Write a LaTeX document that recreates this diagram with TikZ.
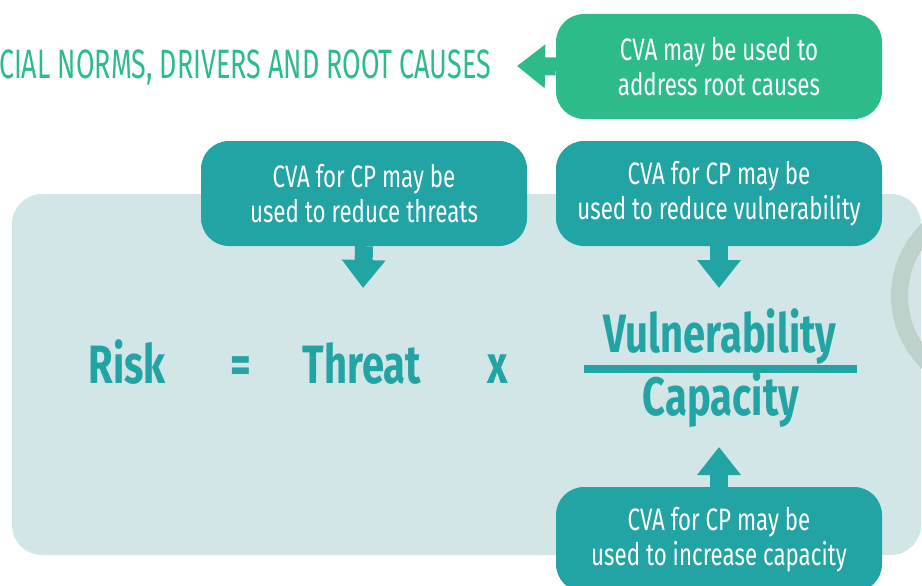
\documentclass[tikz,border=0pt]{standalone}
\usepackage{fontspec}
\newfontfamily\oswald{Fira Sans}[FakeStretch=0.72]
\newfontfamily\oswaldcaps{Fira Sans}[FakeStretch=0.655]
\newfontfamily\oswaldbold{Fira Sans Bold}[FakeStretch=0.74]
\usepackage{xcolor}
\usetikzlibrary{arrows.meta, positioning}
\definecolor{cvateal}{HTML}{22A3A4}
\definecolor{cvagreen}{HTML}{2EBB8A}
\definecolor{panelblue}{HTML}{D3E6E7}
\definecolor{ringgrey}{HTML}{BFD1CB}

\begin{document}
\begin{tikzpicture}[x=1pt,y=-1pt]
\tikzstyle{callout}=[rounded corners=28pt, fill=cvateal, text=white, minimum width=326pt, minimum height=105pt, align=center, inner sep=0pt, font=\oswald\fontsize{31}{35}\selectfont]
\tikzstyle{term}=[text=cvateal, inner sep=0pt, anchor=base, font=\oswaldbold\fontsize{54}{60}\selectfont]
\tikzstyle{blockarrow}=[line width=18pt, -{Triangle[width=42pt,length=28pt]}]
\useasboundingbox (0,0) rectangle (922,586);
\clip (0,0) rectangle (922,586);
% panel behind the formula
\fill[panelblue, rounded corners=30pt] (12,194) rectangle (921,555);
\draw[ringgrey, line width=17pt] (992,296) circle (92.5pt);
% root causes
\node[callout, fill=cvagreen] (root) at (719,66.5) {CVA may be used to\\address root causes};
\node[text=cvagreen, anchor=east, inner sep=0pt, font=\oswaldcaps\fontsize{41}{45}\selectfont] (norms) at (491,68) {CIAL NORMS, DRIVERS AND ROOT CAUSES};
\coordinate (normstip) at (517,66);
\draw[blockarrow, cvagreen] (root.west) -- (normstip);
% callouts
\node[callout] (threatnote) at (364,193.5) {CVA for CP may be\\used to reduce threats};
\node[callout] (vulnnote) at (719,193.5) {CVA for CP may be\\used to reduce vulnerability};
\node[callout] (capnote) at (719,539.5) {CVA for CP may be\\used to increase capacity};
% formula
\node[term] (risk) at (127,383) {Risk};
\node[term] (eq) at (241,383) {=};
\node[term] (threat) at (362,383) {Threat};
\node[term] (times) at (498,383) {x};
\node[term] (vuln) at (720,352) {Vulnerability};
\node[term] (cap) at (721,415) {Capacity};
\draw[cvateal, line width=8pt] (584,369) -- (857,369);
% arrows
\coordinate (threattip) at (363,288);
\coordinate (vulntip) at (719,288);
\coordinate (captip) at (719,447);
\draw[blockarrow, cvateal] (threatnote.south) -- (threattip);
\draw[blockarrow, cvateal] (vulnnote.south) -- (vulntip);
\draw[blockarrow, cvateal] (capnote.north) -- (captip);
\end{tikzpicture}
\end{document}
